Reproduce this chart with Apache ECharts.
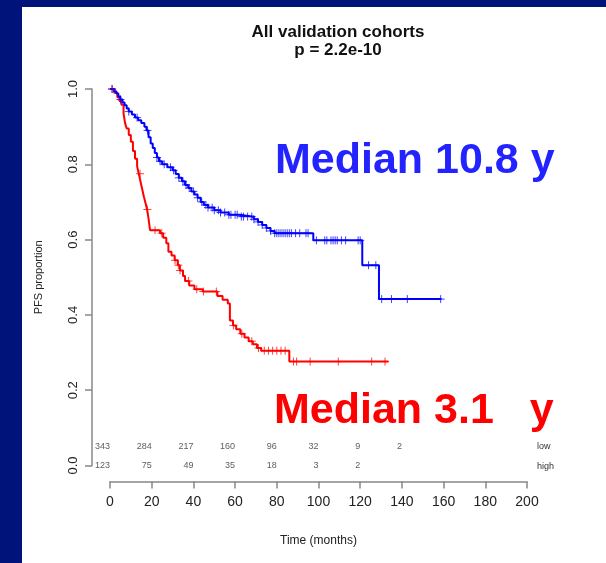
<!DOCTYPE html>
<html>
<head>
<meta charset="utf-8">
<script src="https://cdn.jsdelivr.net/npm/echarts@6/dist/echarts.min.js"></script>
<style>
  html, body { margin: 0; padding: 0; background: #ffffff; }
  #chart { width: 606px; height: 563px; }
</style>
</head>
<body>
<div id="chart"></div>
<script>
// Kaplan–Meier step points (time in months, PFS proportion) for each risk group
const lowTimes = [0, 2, 3, 4, 5, 6, 7, 8, 9, 10.5, 12, 13.5, 15, 16.5, 17.5, 18.5, 19.5, 20.5, 21.5,
  22.5, 23.5, 25, 27.5, 30, 31.5, 33, 34.5, 36, 37.5, 39, 40.5, 42, 43.5, 45, 47, 50, 53, 57, 62,
  69, 71, 73, 75, 77, 79, 97.5, 121, 129, 159];
const lowSurv = [1, 0.994, 0.988, 0.98, 0.972, 0.964, 0.957, 0.948, 0.94, 0.932, 0.924, 0.917, 0.91, 0.9,
  0.89, 0.872, 0.855, 0.843, 0.83, 0.818, 0.808, 0.8, 0.792, 0.784, 0.774, 0.764, 0.755, 0.745, 0.737,
  0.728, 0.72, 0.711, 0.7, 0.692, 0.685, 0.678, 0.672, 0.666, 0.661, 0.654, 0.647, 0.639, 0.631, 0.623,
  0.617, 0.598, 0.532, 0.442, 0.442];

const highTimes = [0, 2, 3.5, 4.5, 5.5, 6.5, 7.2, 8, 9, 10, 11, 12, 13, 13.8, 14.6, 15.4, 16.2, 17, 17.8,
  18.5, 19.2, 24, 25.5, 27, 28, 29.5, 31, 32.5, 33.5, 35, 36, 38, 40.5, 44.5, 51.5, 54, 56.5, 57.5, 59,
  60.5, 62.5, 64.5, 66.5, 68.5, 70.5, 72.5, 86, 133.5];
const highSurv = [1, 0.99, 0.978, 0.968, 0.958, 0.935, 0.91, 0.895, 0.878, 0.86, 0.835, 0.815, 0.795,
  0.775, 0.755, 0.735, 0.715, 0.698, 0.68, 0.655, 0.625, 0.617, 0.605, 0.59, 0.568, 0.558, 0.545, 0.532,
  0.518, 0.503, 0.49, 0.478, 0.468, 0.462, 0.45, 0.44, 0.43, 0.385, 0.372, 0.362, 0.35, 0.34, 0.33,
  0.322, 0.312, 0.305, 0.276, 0.276];

// Censoring times (months)
const lowCensor = [1, 5, 9, 13, 18, 22.5, 24, 26, 29, 30.5, 33, 35, 36.5, 38, 40, 42, 44, 46, 47, 49, 50,
  52, 53, 55, 57, 58, 60, 61, 63, 64, 66, 68, 69, 71, 73, 75, 77, 79, 80, 81, 82, 83, 84, 85, 86, 87, 89,
  91, 94, 95, 99, 103, 104, 106, 107, 108, 109, 111, 113, 119, 120, 124, 127.5, 130.3, 135, 142.6, 158.6];
const highCensor = [1, 14.4, 17.9, 21.6, 24.8, 31.2, 32.8, 33.6, 37.6, 41.6, 44.8, 51, 59.2, 63.2, 68,
  71.2, 74, 76, 78, 80, 82, 84, 88, 89.5, 96, 109.5, 125.5, 131.9];

// Numbers at risk
const riskTimes = [0, 20, 40, 60, 80, 100, 120, 140];
const riskLow = [343, 284, 217, 160, 96, 32, 9, 2];
const riskHigh = [123, 75, 49, 35, 18, 3, 2];

// Axis ticks
const xTicks = [0, 20, 40, 60, 80, 100, 120, 140, 160, 180, 200];
const yTicks = [0, 0.2, 0.4, 0.6, 0.8, 1.0];

const BLUE = '#0000ff';
const RED = '#ff0000';
const FONT = "'Liberation Sans', Arial, Helvetica, sans-serif";

function survAt(times, surv, t) {
  let s = surv[0];
  for (let i = 0; i < times.length; i++) {
    if (times[i] <= t) s = surv[i]; else break;
  }
  return s;
}

const plusSymbol = 'path://M5,0 L5,10 M0,5 L10,5';

function curve(times, surv, color) {
  return {
    type: 'line', step: 'end', symbol: 'none', silent: true,
    data: times.map((t, i) => [t, surv[i]]),
    lineStyle: { color: color, width: 2 }
  };
}
function censor(ct, times, surv, color) {
  return {
    type: 'scatter', symbol: plusSymbol, symbolSize: 8, silent: true,
    data: ct.map(t => [t, survAt(times, surv, t)]),
    itemStyle: { color: 'none', borderColor: color, borderWidth: 1, opacity: 0.75 },
    z: 3
  };
}
function riskRow(counts, rowY) {
  return {
    type: 'scatter', symbolSize: 0, silent: true, clip: false,
    data: counts.map((n, i) => [riskTimes[i], rowY, n]),
    label: {
      show: true, position: 'left', distance: 0,
      formatter: p => String(p.value[2]),
      fontFamily: FONT, fontSize: 9, color: '#333'
    }
  };
}

const chart = echarts.init(document.getElementById('chart'));
chart.setOption({
  backgroundColor: '#ffffff',
  animation: false,
  title: [
    {
      text: 'All validation cohorts', left: 333, top: 19, textAlign: 'center',
      textStyle: { fontFamily: FONT, fontSize: 17, fontWeight: 'bold', color: '#111' }
    },
    {
      text: 'p = 2.2e-10', left: 333, top: 37, textAlign: 'center',
      textStyle: { fontFamily: FONT, fontSize: 17, fontWeight: 'bold', color: '#111' }
    }
  ],
  grid: { left: 110, right: 79, top: 89, bottom: 97.5 },
  xAxis: {
    type: 'value', min: xTicks[0], max: xTicks[xTicks.length - 1], interval: 20,
    offset: 16,
    axisLine: { show: true, onZero: false, lineStyle: { color: '#888', width: 1.5 } },
    axisTick: { show: true, length: 7, lineStyle: { color: '#888', width: 1.5 } },
    axisLabel: { fontFamily: FONT, fontSize: 14, color: '#222', margin: 14 },
    splitLine: { show: false },
    name: 'Time (months)', nameLocation: 'middle', nameGap: 53,
    nameTextStyle: { fontFamily: FONT, fontSize: 12, color: '#222' }
  },
  yAxis: {
    type: 'value', min: yTicks[0], max: yTicks[yTicks.length - 1], interval: 0.2,
    offset: 18,
    axisLine: { show: true, onZero: false, lineStyle: { color: '#888', width: 1.5 } },
    axisTick: { show: true, length: 7, lineStyle: { color: '#888', width: 1.5 } },
    axisLabel: {
      fontFamily: FONT, fontSize: 13, color: '#222', rotate: 90, margin: 12,
      formatter: v => v.toFixed(1)
    },
    splitLine: { show: false },
    name: 'PFS proportion', nameLocation: 'middle', nameGap: 48,
    nameTextStyle: { fontFamily: FONT, fontSize: 11, color: '#222' }
  },
  series: [
    curve(highTimes, highSurv, RED),
    curve(lowTimes, lowSurv, BLUE),
    censor(highCensor, highTimes, highSurv, RED),
    censor(lowCensor, lowTimes, lowSurv, BLUE),
    riskRow(riskLow, 0.05),
    riskRow(riskHigh, 0.0)
  ],
  graphic: [
    { type: 'rect', shape: { x: 0, y: 0, width: 22, height: 563 }, style: { fill: '#00137a' }, z: 100 },
    { type: 'rect', shape: { x: 0, y: 0, width: 606, height: 7 }, style: { fill: '#00137a' }, z: 100 },
    {
      type: 'text', x: 275, y: 161,
      style: { text: 'Median 10.8 y', font: "bold 43px " + FONT, fill: '#2323ff', verticalAlign: 'middle' }
    },
    {
      type: 'text', x: 274, y: 411,
      style: { text: 'Median 3.1   y', font: "bold 43px " + FONT, fill: RED, verticalAlign: 'middle' }
    },
    {
      type: 'text', x: 537, y: 447,
      style: { text: 'low', font: "9px " + FONT, fill: '#333', verticalAlign: 'middle' }
    },
    {
      type: 'text', x: 537, y: 467,
      style: { text: 'high', font: "9px " + FONT, fill: '#333', verticalAlign: 'middle' }
    }
  ]
});
</script>
</body>
</html>
